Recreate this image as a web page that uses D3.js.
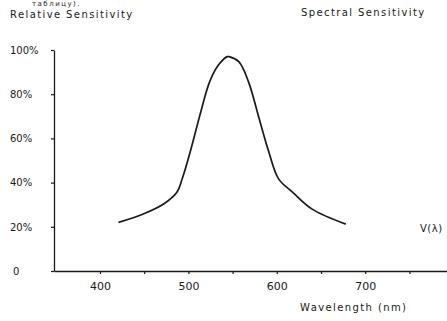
<!DOCTYPE html>
<html>
<head>
<meta charset="utf-8">
<script src="https://cdn.jsdelivr.net/npm/d3@7"></script>
<style>
    body { margin: 0; background: #fff; }
    svg { display: block; font-family: "DejaVu Sans", sans-serif; }
</style>
</head>
<body>
<svg class="chart"></svg>
<script>
// spectral sensitivity curve V(λ)
const wavelengths = [421, 449, 472, 487, 493, 502, 513, 524, 534, 544, 546, 557, 568, 580, 591, 602, 618, 640, 678];
const sensitivity = [22.0, 25.8, 30.3, 35.6, 41.7, 53.8, 70.5, 85.6, 93.2, 97.0, 97.0, 94.7, 85.6, 69.0, 53.8, 41.7, 35.6, 28.0, 21.2];

const yTicks = [0, 20, 40, 60, 80, 100];
const yTickLabels = [`0`, `20%`, `40%`, `60%`, `80%`, `100%`];
const xTicks = [400, 450, 500, 550, 600, 650, 700, 750];
const xTickLabels = { 400: `400`, 500: `500`, 600: `600`, 700: `700` };

const width = 447;
const height = 321;

const xScale = d3.scaleLinear()
    .domain([348, 792.5])
    .range([54, 447]);

const yScale = d3.scaleLinear()
    .domain([0, 100])
    .range([271, 50]);

const chart = d3.select(`.chart`)
    .attr(`width`, width)
    .attr(`height`, height);

const ink = `#1a1a1a`;

// x axis
const xAxis = d3.axisBottom(xScale)
    .tickValues(xTicks)
    .tickSize(3)
    .tickSizeOuter(0)
    .tickPadding(8)
    .tickFormat(d => xTickLabels[d] || ``);

const gx = chart.append(`g`)
    .attr(`transform`, `translate(0, ${yScale(0)})`)
    .call(xAxis);
gx.select(`.domain`).attr(`stroke`, ink).attr(`stroke-width`, 1.3);
gx.selectAll(`.tick line`).attr(`stroke`, ink).attr(`stroke-width`, 1.2);
gx.selectAll(`.tick text`)
    .attr(`fill`, ink)
    .attr(`font-size`, `11px`)
    .attr(`font-family`, `"DejaVu Sans", sans-serif`);

// y axis
const yAxis = d3.axisLeft(yScale)
    .tickValues(yTicks)
    .tickSize(3)
    .tickSizeOuter(0)
    .tickFormat((d, i) => yTickLabels[i]);

const gy = chart.append(`g`)
    .attr(`transform`, `translate(${xScale(348)}, 0)`)
    .call(yAxis);
gy.select(`.domain`).attr(`stroke`, ink).attr(`stroke-width`, 1.3);
gy.selectAll(`.tick line`).attr(`stroke`, ink).attr(`stroke-width`, 1.2);
gy.selectAll(`.tick text`)
    .attr(`fill`, ink)
    .attr(`font-size`, `10px`)
    .attr(`font-family`, `"DejaVu Sans", sans-serif`)
    .attr(`text-anchor`, `start`)
    .attr(`x`, -44);
gy.selectAll(`.tick`).filter(d => d === 0).select(`text`).attr(`x`, -41);

// curve
const points = wavelengths.map((w, i) => [w, sensitivity[i]]);
const line = d3.line()
    .x(d => xScale(d[0]))
    .y(d => yScale(d[1]))
    .curve(d3.curveCatmullRom.alpha(0.5));

chart.append(`path`)
    .datum(points)
    .attr(`d`, line)
    .attr(`fill`, `none`)
    .attr(`stroke`, ink)
    .attr(`stroke-width`, 1.7);

// texts
const label = (x, y, txt, size = 10, spacing = 0) => chart.append(`text`)
    .attr(`x`, x)
    .attr(`y`, y)
    .attr(`font-size`, `${size}px`)
    .attr(`letter-spacing`, spacing)
    .attr(`fill`, ink)
    .text(txt);

label(32, 6.4, `таблицу).`, 7, 1.5);
label(10, 17.5, `Relative Sensitivity`, 10, 1.4);
label(301, 16, `Spectral Sensitivity`, 10, 1.4);
label(420, 232, `V(λ)`, 10, 0.5);
label(300, 311, `Wavelength (nm)`, 10, 1.4);
</script>
</body>
</html>
